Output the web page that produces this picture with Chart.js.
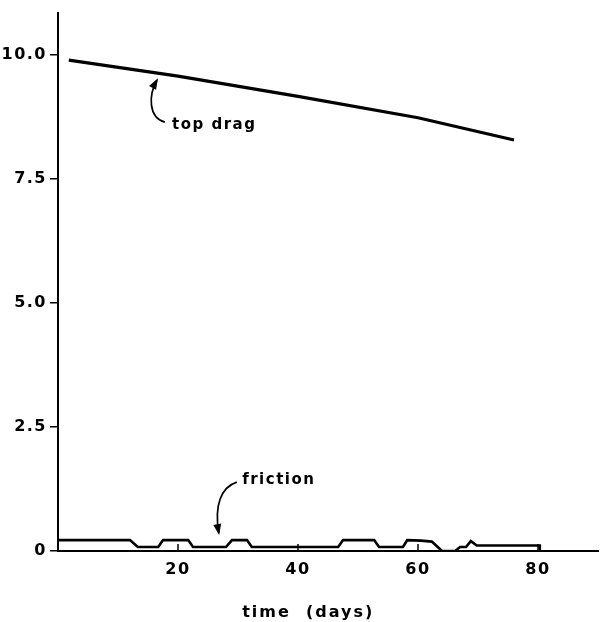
<!DOCTYPE html>
<html><head><meta charset="utf-8">
<script src="https://cdn.jsdelivr.net/npm/chart.js@4"></script>
<style>html,body{margin:0;padding:0;background:#fff}#wrap{width:603px;height:622px}</style>
</head><body><div id="wrap"><canvas id="c" width="603" height="622"></canvas></div>
<script>
// ---- data ----
const topDragDays   = [1.8, 20, 40, 60, 76];
const topDragValues = [9.9, 9.58, 9.17, 8.74, 8.29];

const frictionDays   = [0, 12, 13.3, 16.7, 17.5, 21.7, 22.5, 28, 29, 31.5, 32.3, 46.7, 47.5, 52.7, 53.5, 57.5, 58.2, 60.5, 62.3, 64, 66.2, 67, 68, 68.8, 69.8, 80.3, 80.3];
const frictionValues = [0.22, 0.22, 0.08, 0.08, 0.22, 0.22, 0.08, 0.08, 0.22, 0.22, 0.08, 0.08, 0.22, 0.22, 0.08, 0.08, 0.22, 0.21, 0.19, 0, 0, 0.08, 0.08, 0.2, 0.11, 0.11, 0];

const yTickValues = [0, 2.5, 5, 7.5, 10];
const yTickLabels = ['0', '2.5', '5.0', '7.5', '10.0'];
const xTickValues = [20, 40, 60, 80];
const xTickLabels = ['20', '40', '60', '80'];
const xTitle = 'time  (days)';
const xTitleCenterDay = 41.7;

const annotations = [
  {text: 'top drag', x: 19, y: 8.6,
   arrow: [[17.8, 8.65], [15.0, 8.75], [15.1, 9.2], [16.5, 9.5]]},
  {text: 'friction', x: 30.7, y: 1.43,
   arrow: [[29.8, 1.39], [27.2, 1.29], [26.0, 0.92], [26.8, 0.36]]}
];

const FONT = '"DejaVu Sans", sans-serif';

const toPts = (xs, ys) => xs.map((x, i) => ({x: x, y: ys[i]}));

const decor = {
  id: 'decor',
  beforeDraw(chart) { chart.ctx.letterSpacing = '1.5px'; },
  afterDraw(chart) {
    const ctx = chart.ctx, xs = chart.scales.x, ys = chart.scales.y;
    ctx.save();
    // inside x tick marks
    ctx.strokeStyle = '#000'; ctx.lineWidth = 1.5;
    xTickValues.forEach(v => {
      const px = xs.getPixelForValue(v);
      ctx.beginPath(); ctx.moveTo(px, ys.bottom); ctx.lineTo(px, ys.bottom - 7); ctx.stroke();
    });
    ctx.fillStyle = '#000';
    ctx.textBaseline = 'middle'; ctx.textAlign = 'center';
    // axis title
    ctx.letterSpacing = '2px';
    ctx.font = 'bold 16px ' + FONT;
    ctx.fillText(xTitle, xs.getPixelForValue(xTitleCenterDay), 613);
    // annotations
    ctx.letterSpacing = '1.5px';
    ctx.font = 'bold 15px ' + FONT;
    ctx.textAlign = 'left';
    annotations.forEach(a => {
      ctx.fillText(a.text, xs.getPixelForValue(a.x), ys.getPixelForValue(a.y));
      const p = a.arrow.map(q => [xs.getPixelForValue(q[0]), ys.getPixelForValue(q[1])]);
      ctx.lineWidth = 1.7;
      ctx.beginPath();
      ctx.moveTo(p[0][0], p[0][1]);
      ctx.bezierCurveTo(p[1][0], p[1][1], p[2][0], p[2][1], p[3][0], p[3][1]);
      ctx.stroke();
      const ang = Math.atan2(p[3][1] - p[2][1], p[3][0] - p[2][0]);
      const L = 9, W = 4;
      ctx.beginPath();
      ctx.moveTo(p[3][0] + Math.cos(ang) * 2, p[3][1] + Math.sin(ang) * 2);
      ctx.lineTo(p[3][0] - Math.cos(ang) * L - Math.sin(ang) * W, p[3][1] - Math.sin(ang) * L + Math.cos(ang) * W);
      ctx.lineTo(p[3][0] - Math.cos(ang) * L + Math.sin(ang) * W, p[3][1] - Math.sin(ang) * L - Math.cos(ang) * W);
      ctx.closePath(); ctx.fill();
    });
    ctx.restore();
  }
};

new Chart(document.getElementById('c'), {
  type: 'line',
  data: {
    datasets: [
      {label: 'top drag', data: toPts(topDragDays, topDragValues), borderColor: '#000', borderWidth: 3.2, pointRadius: 0, tension: 0, fill: false},
      {label: 'friction', data: toPts(frictionDays, frictionValues), borderColor: '#000', borderWidth: 2.6, pointRadius: 0, tension: 0, fill: false}
    ]
  },
  options: {
    responsive: false,
    animation: false,
    layout: {padding: {top: 10, right: 5, left: 0, bottom: 0}},
    plugins: {legend: {display: false}, tooltip: {enabled: false}},
    scales: {
      x: {
        type: 'linear', min: 0, max: 90,
        afterBuildTicks: s => { s.ticks = xTickValues.map(v => ({value: v})); },
        afterFit: s => { s.height = 71; },
        ticks: {
          color: '#000', padding: 9, maxRotation: 0, autoSkip: false,
          font: {family: FONT, size: 16, weight: 'bold'},
          callback: (v, i) => xTickLabels[i]
        },
        grid: {display: false, drawTicks: false},
        border: {display: true, color: '#000', width: 2},
        title: {display: false}
      },
      y: {
        type: 'linear', min: 0, max: 10.86,
        afterBuildTicks: s => { s.ticks = yTickValues.map(v => ({value: v})); },
        afterFit: s => { s.width = 58; },
        ticks: {
          color: '#000', padding: 3, autoSkip: false,
          font: {family: FONT, size: 16, weight: 'bold'},
          callback: (v, i) => yTickLabels[i]
        },
        grid: {display: true, drawOnChartArea: false, drawTicks: true, tickLength: 8, color: '#000', lineWidth: 1.5},
        border: {display: true, color: '#000', width: 2}
      }
    }
  },
  plugins: [decor]
});
</script>
</body></html>
